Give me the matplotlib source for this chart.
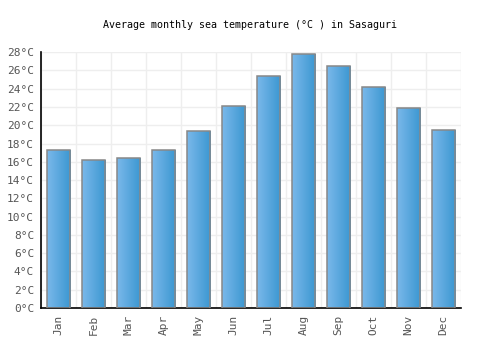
import numpy as np
import matplotlib
matplotlib.use("Agg")
import matplotlib.pyplot as plt
from matplotlib.colors import LinearSegmentedColormap

months = ['Jan', 'Feb', 'Mar', 'Apr', 'May', 'Jun',
          'Jul', 'Aug', 'Sep', 'Oct', 'Nov', 'Dec']
temps = [17.3, 16.2, 16.4, 17.3, 19.4, 22.1, 25.4, 27.8, 26.5, 24.2, 21.9, 19.5]
yticks = list(range(0, 29, 2))

plt.rcParams['font.family'] = ['DejaVu Sans Mono']

fig = plt.figure(figsize=(5, 3.5), dpi=100)
ax = fig.add_axes([0.082, 0.12, 0.84, 0.731])

x = np.arange(len(months))
bars = ax.bar(x, temps, width=0.66, color='none', edgecolor='#888888',
              linewidth=1.1, zorder=3)

# gradient fill, light on the left, darker on the right
cmap = LinearSegmentedColormap.from_list('blu', ['#7ab8ea', '#3b97d1'])
grad = np.linspace(0, 1, 64).reshape(1, -1)
for b in bars:
    x0, y0 = b.get_x(), b.get_y()
    w, h = b.get_width(), b.get_height()
    im = ax.imshow(grad, cmap=cmap, aspect='auto', zorder=2,
                   extent=[x0, x0 + w, y0, y0 + h], interpolation='bilinear')
    im.set_clip_path(b)

ax.set_xlim(-0.5, len(months) - 0.5)
ax.set_ylim(0, 28)
ax.set_xticks(x)
ax.set_xticklabels(months, rotation=90, fontsize=8, color='#555555')
ax.set_yticks(yticks)
ax.set_yticklabels([f'{t}°C' for t in yticks], fontsize=8, color='#555555')
ax.tick_params(length=0, pad=5)

ax.set_xticks(np.arange(-0.5, len(months), 1), minor=True)
ax.tick_params(which='minor', length=0)
ax.grid(True, which='minor', axis='x', color='#eeeeee', linewidth=1, zorder=0)
ax.grid(True, which='major', axis='y', color='#eeeeee', linewidth=1, zorder=0)
ax.set_axisbelow(True)

for s in ['top', 'right']:
    ax.spines[s].set_visible(False)
ax.spines['left'].set_color('black')
ax.spines['bottom'].set_color('black')
ax.spines['left'].set_linewidth(1.2)
ax.spines['bottom'].set_linewidth(1.2)

fig.text(0.5, 0.928, 'Average monthly sea temperature (°C ) in Sasaguri',
         ha='center', va='center', fontsize=7.2, color='black')

fig.savefig('out.png', dpi=100)
